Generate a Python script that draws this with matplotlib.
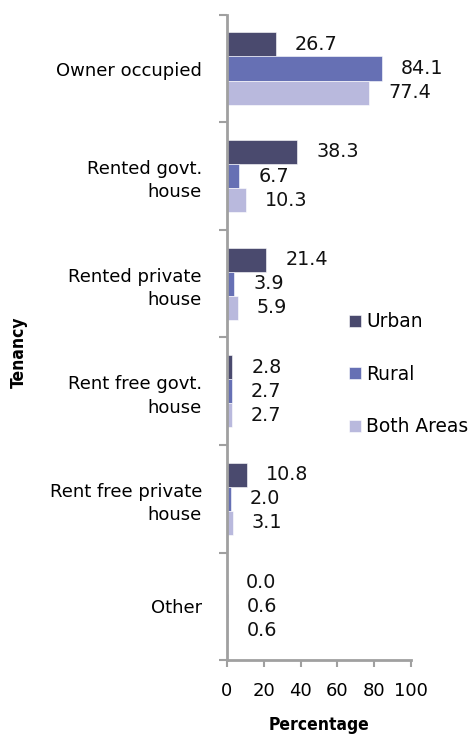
import matplotlib
matplotlib.use("Agg")
import matplotlib.pyplot as plt
import numpy as np

categories = ["Owner occupied", "Rented govt.\nhouse", "Rented private\nhouse",
              "Rent free govt.\nhouse", "Rent free private\nhouse", "Other"]
urban = [26.7, 38.3, 21.4, 2.8, 10.8, 0.0]
rural = [84.1, 6.7, 3.9, 2.7, 2.0, 0.6]
both = [77.4, 10.3, 5.9, 2.7, 3.1, 0.6]
series_names = ["Urban", "Rural", "Both Areas"]
colors = ["#4a4a6e", "#6670b4", "#b9b9dd"]
xticks = [0, 20, 40, 60, 80, 100]

plt.rcParams['font.family'] = ['DejaVu Sans']
fig = plt.figure(figsize=(4.69, 7.36), dpi=100)
ax = fig.add_axes([0.484, 0.103, 0.392, 0.877])

n = len(categories)
y = np.arange(n)
h = 0.224
series = [urban, rural, both]
for i, (vals, name, c) in enumerate(zip(series, series_names, colors)):
    pos = y + (i - 1) * h
    ax.barh(pos, vals, height=h, color=c, label=name, edgecolor='white', linewidth=0.4)
    for p, v in zip(pos, vals):
        ax.annotate(f"{v:.1f}", xy=(v, p), xytext=(19, 0), textcoords='offset pixels',
                    ha='left', va='center', fontsize=13.8, color='#111111')

ax.set_ylim(n - 0.5, -0.5)
ax.set_xlim(0, 100)
ax.set_xticks(xticks)
ax.set_xticklabels([str(t) for t in xticks], fontsize=13)
ax.set_yticks(y)
ax.set_yticklabels(categories, fontsize=13, linespacing=1.38)
ax.set_yticks(np.arange(-0.5, n, 1), minor=True)
ax.tick_params(axis='y', which='major', length=0, pad=18)
ax.tick_params(axis='y', which='minor', length=6, width=1.5, color='#a0a0a0')
ax.tick_params(axis='x', length=5, width=1.5, color='#a0a0a0', pad=11)
for s in ['top', 'right']:
    ax.spines[s].set_visible(False)
for s in ['left', 'bottom']:
    ax.spines[s].set_color('#a0a0a0')
    ax.spines[s].set_linewidth(2)

ax.set_xlabel("Percentage", fontsize=12.5, fontweight='bold', labelpad=11,
              fontstretch='condensed')
fig.text(0.040, 0.522, "Tenancy", rotation=90, ha='center', va='center', fontsize=12.5,
         fontweight='bold', fontstretch='condensed')

leg = ax.legend(loc='upper left', bbox_to_anchor=(0.57, 0.565), frameon=False, fontsize=13.4,
                handlelength=0.65, handleheight=0.65, handletextpad=0.3, labelspacing=1.8)

fig.savefig("out.png", dpi=100)
